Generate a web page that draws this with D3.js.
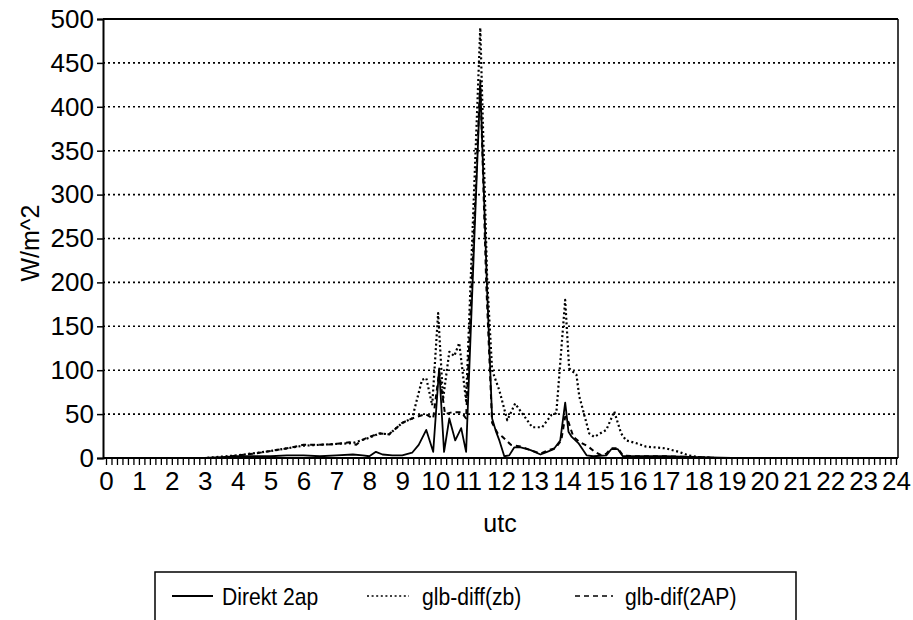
<!DOCTYPE html>
<html>
<head>
<meta charset="utf-8">
<script src="https://cdn.jsdelivr.net/npm/d3@7"></script>
<style>
  html, body { margin: 0; padding: 0; background: #fff; }
  svg { display: block; font-family: "Liberation Sans", Arial, Helvetica, sans-serif; }
</style>
</head>
<body>
<svg id="chart" width="913" height="620"></svg>
<script>
// ---- data (hours UTC, W/m^2) ----
const yTicks = [0, 50, 100, 150, 200, 250, 300, 350, 400, 450, 500];
const xTickLabels = ["0","1","2","3","4","5","6","7","8","9","10","11","12","13","14","15","16","17","18","19","20","21","22","23","24"];

const direktT = [0, 3, 3.5, 4, 4.5, 5, 5.5, 6, 6.5, 7, 7.5, 7.8, 8.0, 8.2, 8.4, 8.7, 9.0, 9.3, 9.5, 9.73, 9.94, 10.12, 10.27, 10.43, 10.61, 10.79, 10.94, 11.37, 11.58, 11.73, 11.85, 11.95, 12.1, 12.25, 12.4, 12.6, 12.9, 13.2, 13.4, 13.6, 13.8, 13.95, 14.05, 14.15, 14.35, 14.6, 14.8, 15.2, 15.35, 15.55, 15.7, 16.0, 17.0, 18.0, 19.0, 24];
const direktV = [0, 0, 1, 2, 2, 2, 3, 3, 2, 3, 4, 3, 2, 7, 4, 3, 3, 6, 15, 32, 7, 102, 7, 45, 20, 34, 7, 425, 190, 45, 30, 20, 2, 3, 12, 12, 9, 4, 7, 10, 20, 63, 30, 24, 17, 3, 2, 3, 10, 10, 2, 2, 2, 1, 0, 0];

const zbT = [0, 3, 4, 5, 6, 7, 7.5, 8, 8.3, 8.6, 9.0, 9.3, 9.6, 9.73, 9.91, 10.09, 10.24, 10.43, 10.58, 10.73, 10.94, 11.37, 11.58, 11.73, 11.95, 12.19, 12.43, 12.64, 12.95, 13.25, 13.53, 13.68, 13.95, 14.07, 14.29, 14.38, 14.68, 14.83, 15.2, 15.44, 15.65, 15.8, 16.1, 16.4, 17.0, 17.4, 17.7, 18.0, 18.5, 24];
const zbV = [0, 0, 3, 8, 14, 16, 17, 23, 28, 27, 40, 45, 89, 91, 60, 165, 67, 121, 116, 131, 65, 490, 203, 100, 77, 43, 62, 51, 35, 35, 49, 51, 180, 102, 95, 70, 28, 24, 32, 53, 28, 20, 17, 13, 11, 7, 3, 1, 0, 0];

const ap2T = [3.5, 4, 4.5, 5, 5.5, 6, 6.5, 7, 7.4, 7.6, 7.75, 8.0, 8.3, 8.6, 9.0, 9.3, 9.45, 9.7, 9.94, 10.12, 10.3, 10.5, 10.8, 10.94, 11.37, 11.55, 11.73, 11.9, 12.05, 12.3, 12.6, 12.9, 13.2, 13.45, 13.65, 13.83, 13.95, 14.05, 14.2, 14.4, 14.65, 14.85, 15.05, 15.2, 15.35, 15.55, 15.7, 16.0, 17.0, 18.0, 18.5];
const ap2V = [0, 3, 5, 8, 11, 15, 15, 16, 18, 15, 20, 24, 28, 27, 40, 45, 47, 50, 45, 98, 50, 52, 52, 45, 430, 200, 40, 28, 24, 15, 13, 9, 5, 9, 11, 20, 47, 41, 24, 18, 13, 7, 3, 5, 11, 11, 3, 2, 2, 1, 0];

const seriesNames = ["Direkt 2ap", "glb-diff(zb)", "glb-dif(2AP)"];

// ---- layout ----
const svg = d3.select("#chart");
const pLeft = 103, pRight = 898, pTop = 19, pBottom = 458;
const x = d3.scaleLinear().domain([0, 24]).range([106, 896]);
const y = d3.scaleLinear().domain([0, 500]).range([pBottom, pTop]);

// gridlines
svg.append("g").selectAll("line").data(yTicks.filter(d => d > 0 && d < 500)).join("line")
  .attr("x1", pLeft).attr("x2", pRight)
  .attr("y1", d => y(d)).attr("y2", d => y(d))
  .attr("stroke", "#000").attr("stroke-width", 1.6).attr("stroke-dasharray", "2,3");

// frame top & right
svg.append("line").attr("x1", pLeft).attr("x2", pRight).attr("y1", y(500)).attr("y2", y(500))
  .attr("stroke", "#000").attr("stroke-width", 2);
svg.append("line").attr("x1", pRight).attr("x2", pRight).attr("y1", y(500)).attr("y2", pBottom)
  .attr("stroke", "#000").attr("stroke-width", 1.5);

// y axis
const yAxis = d3.axisLeft(y).tickValues(yTicks).tickSize(6).tickPadding(3);
const gy = svg.append("g").attr("transform", `translate(${pLeft},0)`).call(yAxis);
gy.select(".domain").attr("stroke-width", 2);
gy.selectAll(".tick line").attr("stroke-width", 1.5);
gy.selectAll(".tick text").attr("font-size", 26).attr("fill", "#000")
  .attr("font-family", "'Liberation Sans', Arial, sans-serif");

// x axis: minor ticks every 10 min, labels every hour
const minorTicks = d3.range(0, 24 * 6 + 1).map(i => i / 6);
const xAxisMinor = d3.axisBottom(x).tickValues(minorTicks).tickSize(7).tickFormat("");
const gxm = svg.append("g").attr("transform", `translate(0,${pBottom})`).call(xAxisMinor);
gxm.select(".domain").remove();
gxm.selectAll(".tick line").attr("stroke-width", 1.3);
svg.append("line").attr("x1", pLeft).attr("x2", pRight).attr("y1", pBottom).attr("y2", pBottom)
  .attr("stroke", "#000").attr("stroke-width", 2);

const xAxis = d3.axisBottom(x).tickValues(d3.range(0, 25)).tickSize(0).tickPadding(14)
  .tickFormat((d, i) => xTickLabels[i]);
const gx = svg.append("g").attr("transform", `translate(0,${pBottom})`).call(xAxis);
gx.select(".domain").remove();
gx.selectAll(".tick text").attr("font-size", 26).attr("fill", "#000")
  .attr("font-family", "'Liberation Sans', Arial, sans-serif");

// axis titles
svg.append("text").attr("x", 500).attr("y", 532).attr("text-anchor", "middle")
  .attr("font-size", 25).text("utc");
svg.append("text").attr("transform", "translate(39,243) rotate(-90)").attr("text-anchor", "middle")
  .attr("font-size", 25).text("W/m^2");

// lines
const line = d3.line().x(d => x(d[0])).y(d => y(d[1]));
const styles = [
  { t: direktT, v: direktV, dash: null, w: 1.8 },
  { t: zbT, v: zbV, dash: "2,2.6", w: 2.2 },
  { t: ap2T, v: ap2V, dash: "5,4", w: 2 }
];
styles.forEach(s => {
  svg.append("path").datum(d3.zip(s.t, s.v)).attr("d", line)
    .attr("fill", "none").attr("stroke", "#000").attr("stroke-width", s.w)
    .attr("stroke-dasharray", s.dash).attr("stroke-linejoin", "round");
});

// legend
const lg = svg.append("g");
lg.append("rect").attr("x", 155).attr("y", 572).attr("width", 641).attr("height", 60)
  .attr("fill", "none").attr("stroke", "#000").attr("stroke-width", 1.5);
const legendItems = [
  { x1: 172, x2: 213, tx: 222, dash: null, w: 1.8 },
  { x1: 367, x2: 409, tx: 422, dash: "2,2.6", w: 1.6 },
  { x1: 575, x2: 613, tx: 625, dash: "5,4", w: 1.6 }
];
legendItems.forEach((it, i) => {
  lg.append("line").attr("x1", it.x1).attr("x2", it.x2).attr("y1", 596).attr("y2", 596)
    .attr("stroke", "#000").attr("stroke-width", it.w).attr("stroke-dasharray", it.dash);
  lg.append("text").attr("transform", `translate(${it.tx},605) scale(0.88,1)`)
    .attr("font-size", 24).text(seriesNames[i]);
});
</script>
</body>
</html>
